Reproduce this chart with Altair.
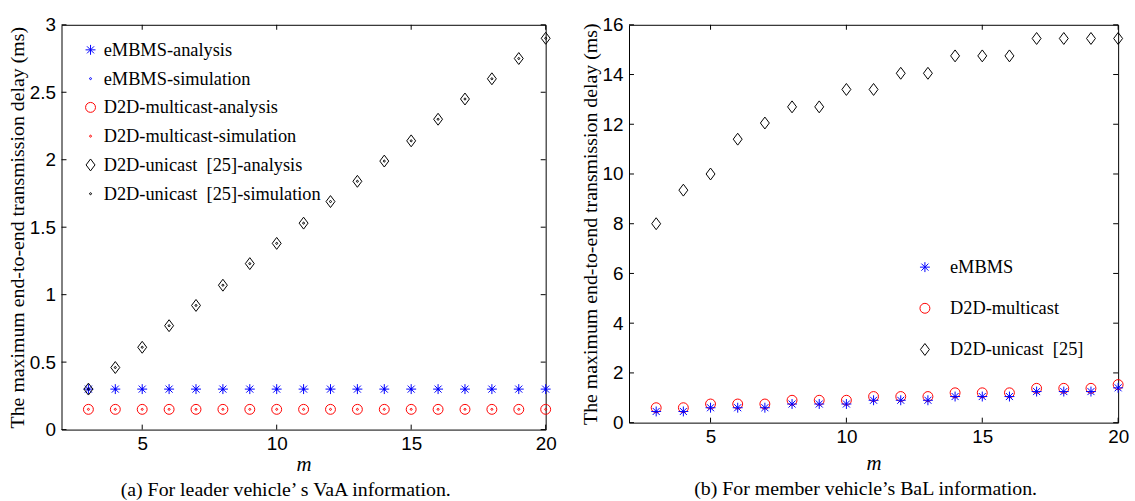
import altair as alt
import pandas as pd

m_vals = [3, 4, 5, 6, 7, 8, 9, 10, 11, 12, 13, 14, 15, 16, 17, 18, 19, 20]

# ---- panel (a): leader vehicle's VaA information ----
a_embms_analysis = [0.30, 0.30, 0.30, 0.30, 0.30, 0.30, 0.30, 0.30, 0.30,
                    0.30, 0.30, 0.30, 0.30, 0.30, 0.30, 0.30, 0.30, 0.30]
a_embms_sim = [0.30, 0.30, 0.30, 0.30, 0.30, 0.30, 0.30, 0.30, 0.30,
               0.30, 0.30, 0.30, 0.30, 0.30, 0.30, 0.30, 0.30, 0.30]
a_mc_analysis = [0.15, 0.15, 0.15, 0.15, 0.15, 0.15, 0.15, 0.15, 0.15,
                 0.15, 0.15, 0.15, 0.15, 0.15, 0.15, 0.15, 0.15, 0.15]
a_mc_sim = [0.15, 0.15, 0.15, 0.15, 0.15, 0.15, 0.15, 0.15, 0.15,
            0.15, 0.15, 0.15, 0.15, 0.15, 0.15, 0.15, 0.15, 0.15]
a_uc_analysis = [0.30, 0.46, 0.61, 0.77, 0.92, 1.07, 1.23, 1.38, 1.53,
                 1.69, 1.84, 1.99, 2.14, 2.30, 2.45, 2.60, 2.75, 2.90]
a_uc_sim = [0.30, 0.46, 0.61, 0.77, 0.92, 1.07, 1.23, 1.38, 1.53,
            1.69, 1.84, 1.99, 2.14, 2.30, 2.45, 2.60, 2.75, 2.90]
a_series = ["eMBMS-analysis", "eMBMS-simulation", "D2D-multicast-analysis",
            "D2D-multicast-simulation", "D2D-unicast\u2002[25]-analysis",
            "D2D-unicast\u2002[25]-simulation"]
a_xticks = [5, 10, 15, 20]
a_yticks = [0, 0.5, 1, 1.5, 2, 2.5, 3]

# ---- panel (b): member vehicle's BaL information ----
b_embms = [0.45, 0.45, 0.60, 0.60, 0.60, 0.75, 0.75, 0.75, 0.90,
           0.90, 0.90, 1.05, 1.05, 1.05, 1.25, 1.25, 1.25, 1.40]
b_mc = [0.60, 0.60, 0.75, 0.75, 0.75, 0.90, 0.90, 0.90, 1.05,
        1.05, 1.05, 1.20, 1.20, 1.20, 1.38, 1.38, 1.38, 1.53]
b_uc = [8.00, 9.35, 10.00, 11.40, 12.05, 12.70, 12.70, 13.40, 13.40,
        14.05, 14.05, 14.75, 14.75, 14.75, 15.45, 15.45, 15.45, 15.45]
b_series = ["eMBMS", "D2D-multicast", "D2D-unicast\u2002[25]"]
b_xticks = [5, 10, 15, 20]
b_yticks = [0, 2, 4, 6, 8, 10, 12, 14, 16]

SERIF = "Liberation Serif"
SANS = "Liberation Sans"

ASTER = "M0,-1L0,1M-1,0L1,0M-0.71,-0.71L0.71,0.71M-0.71,0.71L0.71,-0.71"
CIRCLE = "M1,0A1,1,0,1,1,-1,0A1,1,0,1,1,1,0Z"
DIAMOND = "M0,-1.2L0.9,0L0,1.2L-0.9,0Z"
DOT = "M0.2,0A0.2,0.2,0,1,1,-0.2,0A0.2,0.2,0,1,1,0.2,0Z"
BLUE, RED, BLACK = "#0000ff", "#ff0000", "#000000"


def long_df(series_names, arrays):
    rows = []
    for name, arr in zip(series_names, arrays):
        for m, v in zip(m_vals, arr):
            rows.append({"m": m, "value": v, "series": name})
    return pd.DataFrame(rows)


def panel(df, series, shapes, colors, ydom, xticks, yticks, W, H,
          ytitle, caption, legend_xy, row_pad, label_off, cap_dx, xtitle_pad):
    xs = alt.Scale(domain=[2, 20], nice=False, zero=False)
    ys = alt.Scale(domain=ydom, nice=False, zero=False)
    legend = alt.Legend(title=None, orient="none", legendX=legend_xy[0],
                        legendY=legend_xy[1], labelFont=SERIF, labelFontSize=18.5,
                        labelColor="black", symbolSize=100, symbolStrokeWidth=1,
                        rowPadding=row_pad, labelOffset=label_off, labelLimit=400,
                        symbolOpacity=1)
    xaxis = alt.Axis(values=xticks, grid=False, ticks=False, tickSize=0,
                     domain=False, labelFont=SANS, labelFontSize=19,
                     labelColor="black", labelPadding=5, labelFlush=False,
                     title="m",
                     titleFont=SERIF, titleFontStyle="italic",
                     titleFontWeight="normal", titleFontSize=21,
                     titleColor="black", titlePadding=xtitle_pad)
    yaxis = alt.Axis(values=yticks, grid=False, ticks=False, tickSize=0,
                     domain=False, labelFont=SANS, labelFontSize=19,
                     labelColor="black", labelPadding=6, labelFlush=False,
                     title=ytitle, format="~g",
                     titleFont=SERIF, titleFontWeight="normal", titleFontSize=20,
                     titleColor="black", titlePadding=2)
    pts = alt.Chart(df).mark_point(filled=False, size=100, strokeWidth=1,
                                   opacity=1).encode(
        x=alt.X("m:Q", scale=xs, axis=xaxis),
        y=alt.Y("value:Q", scale=ys, axis=yaxis),
        shape=alt.Shape("series:N", scale=alt.Scale(domain=series, range=shapes),
                        legend=legend),
        color=alt.Color("series:N", scale=alt.Scale(domain=series, range=colors),
                        legend=legend),
    )
    xt = pd.DataFrame({"m": xticks})
    yt = pd.DataFrame({"value": yticks})
    tb = alt.Chart(xt).mark_rule(color="black", strokeWidth=1).encode(
        x=alt.X("m:Q", scale=xs), y=alt.value(H), y2=alt.value(H - 5))
    tt = alt.Chart(xt).mark_rule(color="black", strokeWidth=1).encode(
        x=alt.X("m:Q", scale=xs), y=alt.value(0), y2=alt.value(5))
    tl = alt.Chart(yt).mark_rule(color="black", strokeWidth=1).encode(
        y=alt.Y("value:Q", scale=ys), x=alt.value(0), x2=alt.value(5))
    tr = alt.Chart(yt).mark_rule(color="black", strokeWidth=1).encode(
        y=alt.Y("value:Q", scale=ys), x=alt.value(W), x2=alt.value(W - 5))
    return alt.layer(tb, tt, tl, tr, pts).properties(
        width=W, height=H,
        title=alt.TitleParams(text=caption, orient="bottom", font=SERIF,
                              fontSize=20, fontWeight="normal", color="black",
                              anchor="middle", offset=6, dx=cap_dx),
    )


df_a = long_df(a_series, [a_embms_analysis, a_embms_sim, a_mc_analysis,
                          a_mc_sim, a_uc_analysis, a_uc_sim])
# draw analysis markers first, simulation dots on top
order = {a_series[0]: 0, a_series[2]: 1, a_series[4]: 2,
         a_series[1]: 3, a_series[3]: 4, a_series[5]: 5}
df_a = df_a.assign(o=df_a["series"].map(order)).sort_values(["o", "m"]).drop(columns="o")

df_b = long_df(b_series, [b_embms, b_mc, b_uc])
df_b = pd.concat([df_b[df_b.series == b_series[2]],
                  df_b[df_b.series == b_series[1]],
                  df_b[df_b.series == b_series[0]]])

YT = "The maximum end-to-end transmission delay (ms)"

left = panel(df_a, a_series, [ASTER, DOT, CIRCLE, DOT, DIAMOND, DOT],
             [BLUE, BLUE, RED, RED, BLACK, BLACK], [0, 3], a_xticks, a_yticks,
             488, 408, YT, "(a) For leader vehicle\u2019 s VaA information.",
             (20, 16), 10, 4, -18, 0)
right = panel(df_b, b_series, [ASTER, CIRCLE, DIAMOND], [BLUE, RED, BLACK],
              [0, 16], b_xticks, b_yticks, 493, 401, YT,
              "(b) For member vehicle\u2019s BaL information.",
              (289, 235), 22.5, 16, -8, 6)

chart = alt.hconcat(left, right, spacing=22).resolve_scale(
    color="independent", shape="independent", x="independent", y="independent"
).resolve_legend(color="independent", shape="independent").configure_view(
    stroke="black", strokeWidth=1
).properties(
    padding={"left": 7, "top": 13, "right": 5, "bottom": 0},
    background="white",
)

chart.save("out.html", embed_options={"renderer": "svg", "actions": False})
